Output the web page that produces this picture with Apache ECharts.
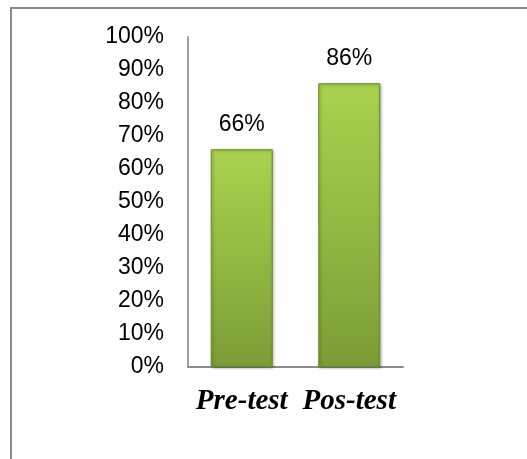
<!DOCTYPE html>
<html>
<head>
<meta charset="utf-8">
<script src="https://cdn.jsdelivr.net/npm/echarts@6/dist/echarts.min.js"></script>
<style>
  html, body { margin: 0; padding: 0; background: #fff; }
  #main { width: 527px; height: 459px; }
</style>
</head>
<body>
<div id="main"></div>
<script>
const categories = ['Pre-test', 'Pos-test'];
const scores = [66, 86];

const chart = echarts.init(document.getElementById('main'));

const barFill = new echarts.graphic.LinearGradient(0, 0, 0, 1, [
  { offset: 0, color: '#a8d24e' },
  { offset: 0.5, color: '#92b942' },
  { offset: 1, color: '#7b9c36' }
]);

chart.setOption({
  animation: false,
  graphic: [{
    type: 'rect',
    shape: { x: 11, y: 8, width: 700, height: 700 },
    style: { fill: 'none', stroke: '#8a8a8a', lineWidth: 2 },
    silent: true
  }],
  grid: { left: 188, top: 37, right: 124, bottom: 92 },
  xAxis: {
    type: 'category',
    data: categories,
    axisLine: { lineStyle: { color: '#8c8c8c', width: 2 } },
    axisTick: { show: false },
    axisLabel: {
      interval: 0,
      hideOverlap: false,
      fontFamily: 'Liberation Serif',
      fontWeight: 'bold',
      fontStyle: 'italic',
      fontSize: 29,
      color: '#000',
      margin: 20
    }
  },
  yAxis: {
    type: 'value',
    min: 0,
    max: 100,
    interval: 10,
    axisLine: { show: true, lineStyle: { color: '#a0a0a0', width: 2 } },
    axisTick: { show: false },
    splitLine: { show: false },
    axisLabel: {
      formatter: '{value}%',
      fontFamily: 'Liberation Sans',
      fontSize: 23,
      color: '#000',
      margin: 24
    }
  },
  series: [{
    type: 'bar',
    data: scores,
    barWidth: 62,
    itemStyle: {
      color: barFill,
      borderColor: '#6b8a2c',
      borderWidth: 1,
      shadowColor: 'rgba(0,0,0,0.35)',
      shadowBlur: 3,
      shadowOffsetX: 1,
      shadowOffsetY: 1
    },
    label: {
      show: true,
      position: 'top',
      distance: 13,
      formatter: '{c}%',
      fontFamily: 'Liberation Sans',
      fontSize: 23,
      color: '#000'
    }
  }]
});
</script>
</body>
</html>
